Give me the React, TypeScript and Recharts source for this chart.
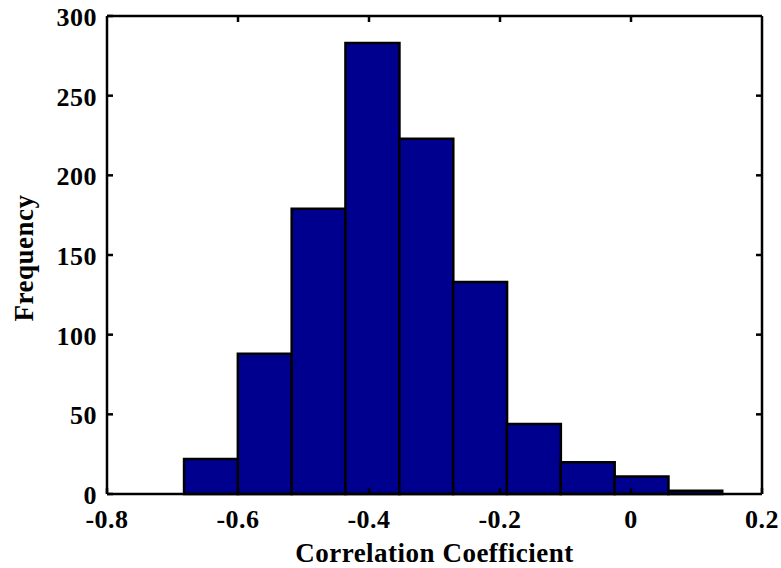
import React from 'react';
import { ComposedChart, Bar, Line, XAxis, YAxis } from 'recharts';

const binCenters = [-0.6413, -0.5592, -0.477, -0.3949, -0.3127, -0.2306, -0.1485, -0.0663, 0.0158, 0.0979];
const frequencies = [22, 88, 179, 283, 223, 133, 44, 20, 11, 2];
const xTicks = [-0.8, -0.6, -0.4, -0.2, 0, 0.2];
const xTicksTop = [-0.6, -0.4, -0.2, 0];
const yTicks = [0, 50, 100, 150, 200, 250, 300];
const yTicksRight = [50, 100, 150, 200, 250];
const xLabel = 'Correlation Coefficient';
const yLabel = 'Frequency';

const data = binCenters.map((x, i) => ({ x, count: frequencies[i] }));

const FONT = '"Liberation Serif", "Times New Roman", serif';
const TICK_FS = 26;
const LABEL_FS = 27;

const BottomTick = (props: any) => {
  const { x, y, payload } = props;
  return (
    <g>
      <line x1={x} x2={x} y1={y} y2={y - 6} stroke="#000" strokeWidth={2.5} />
      <text x={x} y={y + 34} textAnchor="middle" fontFamily={FONT} fontWeight="bold" fontSize={TICK_FS} letterSpacing={0.5} fill="#000">
        {String(payload.value)}
      </text>
    </g>
  );
};

const TopTick = (props: any) => {
  const { x, y } = props;
  return <line x1={x} x2={x} y1={y} y2={y + 6} stroke="#000" strokeWidth={2.5} />;
};

const LeftTick = (props: any) => {
  const { x, y, payload } = props;
  return (
    <g>
      <line x1={x} x2={x + 6} y1={y} y2={y} stroke="#000" strokeWidth={2.5} />
      <text x={x - 10} y={y} dy="0.38em" textAnchor="end" fontFamily={FONT} fontWeight="bold" fontSize={TICK_FS} letterSpacing={0.5} fill="#000">
        {String(payload.value)}
      </text>
    </g>
  );
};

const RightTick = (props: any) => {
  const { x, y } = props;
  return <line x1={x} x2={x - 6} y1={y} y2={y} stroke="#000" strokeWidth={2.5} />;
};

export default function App() {
  return (
    <div style={{ position: 'absolute', left: 0, top: 0, width: 781, height: 568 }}>
      <ComposedChart
        width={781}
        height={568}
        data={data}
        margin={{ top: 15, right: 18, bottom: 0, left: 0 }}
        barCategoryGap={0}
        barGap={0}
      >
        <XAxis
          dataKey="x"
          type="number"
          domain={[-0.8, 0.2]}
          ticks={xTicks}
          interval={0}
          height={74}
          tickSize={0}
          tickMargin={0}
          tickLine={false}
          tick={<BottomTick />}
          axisLine={{ stroke: '#000', strokeWidth: 2.5 }}
          label={{
            value: xLabel,
            content: (p: any) => {
              const vb = p.viewBox;
              return (
                <text x={vb.x + vb.width / 2} y={vb.y + 68} textAnchor="middle" fontFamily={FONT} fontWeight="bold" fontSize={LABEL_FS} letterSpacing={0.5} fill="#000">
                  {xLabel}
                </text>
              );
            },
          }}
        />
        <XAxis
          xAxisId="top"
          orientation="top"
          dataKey="x"
          type="number"
          domain={[-0.8, 0.2]}
          ticks={xTicksTop}
          interval={0}
          height={1}
          tickSize={0}
          tickMargin={0}
          tickLine={false}
          tick={<TopTick />}
          axisLine={{ stroke: '#000', strokeWidth: 2.5 }}
        />
        <YAxis
          type="number"
          domain={[0, 300]}
          ticks={yTicks}
          interval={0}
          width={107}
          tickSize={0}
          tickMargin={0}
          tickLine={false}
          tick={<LeftTick />}
          axisLine={{ stroke: '#000', strokeWidth: 2.5 }}
          label={{
            value: yLabel,
            content: () => {
              const cx = 33;
              const cy = 258;
              return (
                <text x={cx} y={cy} transform={`rotate(-90, ${cx}, ${cy})`} textAnchor="middle" fontFamily={FONT} fontWeight="bold" fontSize={LABEL_FS} letterSpacing={0.5} fill="#000">
                  {yLabel}
                </text>
              );
            },
          }}
        />
        <YAxis
          yAxisId="right"
          orientation="right"
          type="number"
          domain={[0, 300]}
          ticks={yTicksRight}
          interval={0}
          width={1}
          tickSize={0}
          tickMargin={0}
          tickLine={false}
          tick={<RightTick />}
          axisLine={{ stroke: '#000', strokeWidth: 2.5 }}
        />
        <Bar dataKey="count" fill="#00008F" stroke="#000" strokeWidth={2.5} isAnimationActive={false} />
        <Line
          xAxisId="top"
          yAxisId="right"
          dataKey="count"
          stroke="none"
          dot={false}
          activeDot={false}
          legendType="none"
          isAnimationActive={false}
        />
      </ComposedChart>
    </div>
  );
}
